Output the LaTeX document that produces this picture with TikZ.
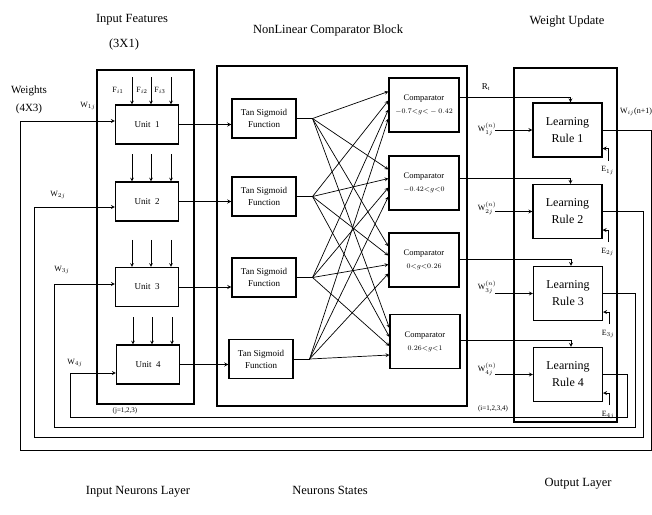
\documentclass[tikz,border=0pt]{standalone}
\usepackage{fontspec}
\setmainfont{Liberation Serif}
\usetikzlibrary{calc,arrows}
\begin{document}
\begin{tikzpicture}[
			x=1pt, y=-1pt,
			>=stealth,
			outer box/.style={draw, line width=1.8pt},
			unit box/.style={draw, line width=1.1pt, inner sep=0pt, minimum width=63pt, minimum height=39pt, font=\fontsize{9}{10}\selectfont},
			sig box/.style={draw, line width=1.1pt, inner sep=0pt, minimum width=64pt, minimum height=39pt, align=center, font=\fontsize{9}{12}\selectfont},
			comp box/.style={draw, line width=1.1pt, inner sep=0pt, minimum width=70pt, minimum height=54pt, align=center, font=\fontsize{8.5}{10}\selectfont},
			rule box/.style={draw, line width=1.1pt, inner sep=0pt, minimum width=69pt, minimum height=54pt, align=center, font=\fontsize{12}{14}\selectfont},
			title node/.style={inner sep=0pt, font=\fontsize{12.5}{15}\selectfont},
			label node/.style={inner sep=0pt, font=\fontsize{8}{9}\selectfont},
			fb line/.style={line width=0.8pt}
			]
			\useasboundingbox (0,0) rectangle (652,514);
			% titles
			\node[title node] (tfeat) at (132,20) {Input Features};
			\node[title node] (tfeatdim) at (124,44) {(3X1)};
			\node[title node] (tcomp) at (328,30) {NonLinear Comparator Block};
			\node[title node] (tupd) at (567,22) {Weight Update};
			\node[title node, font=\fontsize{11}{13}\selectfont] (twts) at (29,91) {Weights};
			\node[title node, font=\fontsize{11}{13}\selectfont] (twtsdim) at (29,109) {(4X3)};
			\node[title node] (tinl) at (138,492) {Input Neurons Layer};
			\node[title node] (tstates) at (330,490) {Neurons States};
			\node[title node] (toutl) at (578,484) {Output Layer};
			% layer frames
			\draw[outer box] (97,70) rectangle (194,404);
			\draw[outer box] (217,66) rectangle (467,406);
			\draw[outer box] (514,68) rectangle (617,422);
			% units
			\node[unit box] (u1) at (147,124.5) {Unit\ \ 1};
			\node[unit box] (u2) at (147,201.5) {Unit\ \ 2};
			\node[unit box] (u3) at (147,287) {Unit\ \ 3};
			\node[unit box] (u4) at (148,364.5) {Unit\ \ 4};
			% tan sigmoid
			\node[sig box] (ts1) at (264,118.5) {Tan Sigmoid\\Function};
			\node[sig box] (ts2) at (264,196.5) {Tan Sigmoid\\Function};
			\node[sig box] (ts3) at (264,277.5) {Tan Sigmoid\\Function};
			\node[sig box] (ts4) at (261,359) {Tan Sigmoid\\Function};
			% comparators
			\node[comp box] (c1) at (424,105) {Comparator\\[3pt]{\fontsize{7}{8}\selectfont $-0.7{<}g{<}-0.42$}};
			\node[comp box] (c2) at (424,183) {Comparator\\[3pt]{\fontsize{7}{8}\selectfont $-0.42{<}g{<}0$}};
			\node[comp box] (c3) at (424,260) {Comparator\\[3pt]{\fontsize{7}{8}\selectfont $0{<}g{<}0.26$}};
			\node[comp box] (c4) at (425,341.5) {Comparator\\[3pt]{\fontsize{7}{8}\selectfont $0.26{<}g{<}1$}};
			% learning rules
			\node[rule box] (lr1) at (567.5,130) {Learning\\[3pt]Rule 1};
			\node[rule box] (lr2) at (567.5,211.5) {Learning\\[3pt]Rule 2};
			\node[rule box] (lr3) at (568,293.5) {Learning\\[3pt]Rule 3};
			\node[rule box] (lr4) at (568,374.5) {Learning\\[3pt]Rule 4};
			% features into units
			\foreach \u in {1,...,4}{
				\foreach \dx in {-15,4,24}{
					\coordinate (fin\u\dx) at ($(u\u.north)+(\dx,-27)$);
					\draw[->, line width=0.7pt] (fin\u\dx) -- (fin\u\dx |- u\u.north);
				}
				\draw[->, line width=0.9pt] (u\u.east) -- (u\u.east -| ts\u.west);
			}
			\node[label node] (f1) at (118,90) {F$_{i1}$};
			\node[label node] (f2) at (142,90) {F$_{i2}$};
			\node[label node] (f3) at (160,90) {F$_{i3}$};
			% full connection to comparators
			\foreach \i in {1,...,4}{
				\coordinate (fan\i) at ($(ts\i.east)+(16,0)$);
				\draw[line width=0.8pt] (ts\i.east) -- (fan\i);
				\foreach \j in {1,...,4}
					\draw[->, line width=0.7pt] (fan\i) -- ($(c\j.west)+(0,{(\i-2.5)*9})$);
			}
			% comparator outputs
			\foreach \j/\dy in {1/8,2/5,3/1,4/1.5}
				\draw[->, fb line] ([yshift=\dy pt]c\j.east) -| ([xshift=3pt]lr\j.north);
			\node[label node, font=\fontsize{9}{10}\selectfont] (rt) at (486,87) {R$_\mathrm{t}$};
			% old weights into rules
			\foreach \k/\lab/\ly in {1/1j/129,2/2j/208,3/3j/287,4/4j/369}{
				\coordinate (win\k) at (495,0);
				\draw[->, fb line] (lr\k.west -| win\k) -- (lr\k.west);
				\node[label node] (wn\k) at (487,\ly) {W$^{(n)}_{\lab}$};
			}
			\node[label node] (wnext) at (636,112) {W$_{ij}$(n+1)};
			% error inputs
			\foreach \k in {1,...,4}{
				\coordinate (ein\k) at ($(lr\k.south east)+(6,3)$);
				\draw[->, fb line] (ein\k) |- ($(lr\k.south east)+(0,-9)$);
				\node[label node] (e\k) at ($(lr\k.south east)+(5,13)$) {E$_{\k j}$};
			}
			% feedback loops to weights
			\foreach \k/\rx/\by/\lx/\wy in {1/651/450/20/121, 2/643/437/34/207, 3/635/427/54/284, 4/627/417/70/373}{
				\coordinate (br\k) at (\rx,\by);
				\coordinate (bl\k) at (\lx,\by);
				\coordinate (wl\k) at (\lx,\wy);
				\draw[->, fb line] (lr\k.east) -- (lr\k.east -| br\k) -- (br\k) -- (bl\k) -- (wl\k) -- (wl\k -| u\k.west);
			}
			\node[label node] (w1) at (88,106) {W$_{1j}$};
			\node[label node] (w2) at (58,195) {W$_{2j}$};
			\node[label node] (w3) at (62,270) {W$_{3j}$};
			\node[label node] (w4) at (75,363) {W$_{4j}$};
			\node[label node, font=\fontsize{7}{8}\selectfont] (jrange) at (125,411) {(j=1,2,3)};
			\node[label node, font=\fontsize{7}{8}\selectfont] (irange) at (493,409) {(i=1,2,3,4)};
		\end{tikzpicture}
\end{document}
